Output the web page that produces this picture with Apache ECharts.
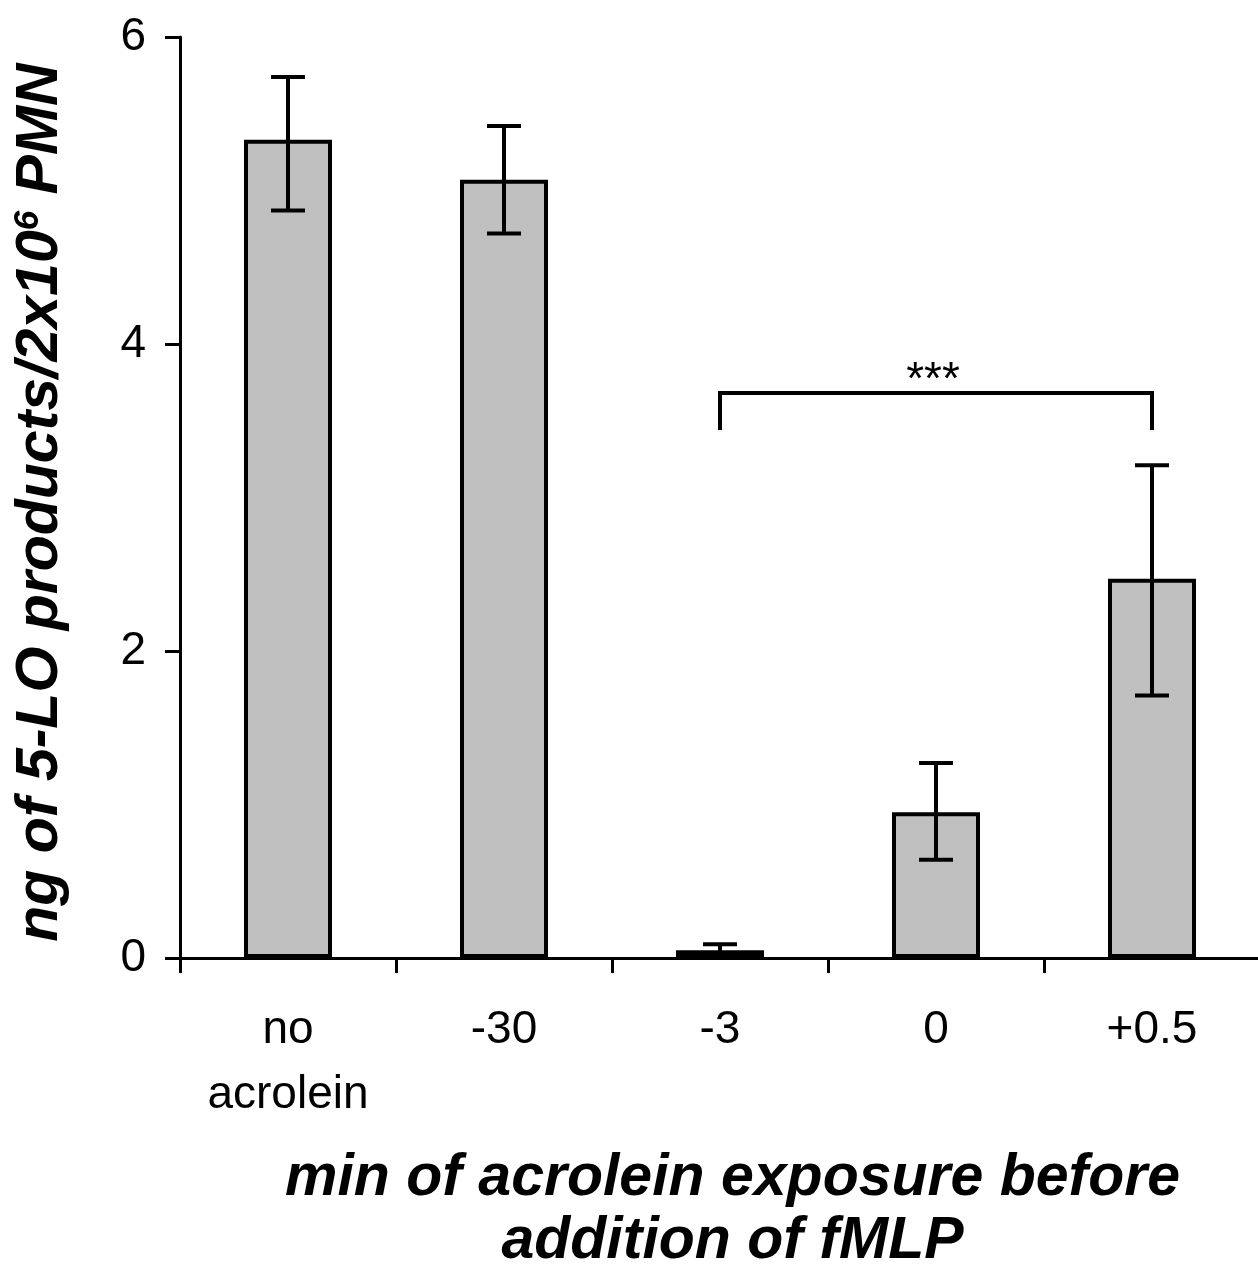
<!DOCTYPE html>
<html>
<head>
<meta charset="utf-8">
<script src="https://cdn.jsdelivr.net/npm/echarts@6/dist/echarts.min.js"></script>
<style>
html, body { margin: 0; padding: 0; background: #fff; }
#chart { width: 1258px; height: 1269px; }
</style>
</head>
<body>
<div id="chart"></div>
<script>
// data
var categories = ["no\nacrolein", "-30", "-3", "0", "+0.5"];
var means = [5.33, 5.07, 0.05, 0.95, 2.47];
var errLow = [4.87, 4.72, 0.01, 0.64, 1.71];
var errHigh = [5.74, 5.42, 0.09, 1.27, 3.21];
var yTicks = [0, 2, 4, 6];
// significance bracket: from category, to category, top, leg bottom
var bracket = [[2, 4, 3.68, 3.44]];
var bracketLabel = "***";

var errData = [];
for (var i = 0; i < categories.length; i++) {
    errData.push([i, errLow[i], errHigh[i]]);
}

var chart = echarts.init(document.getElementById("chart"));

var option = {
    backgroundColor: "#fff",
    animation: false,
    grid: { left: 180, top: 37, width: 1080, height: 921, containLabel: false, outerBoundsMode: "none" },
    xAxis: {
        type: "category",
        data: categories,
        boundaryGap: true,
        axisLine: { lineStyle: { color: "#000", width: 3 } },
        axisTick: { show: true, length: 15, inside: false, lineStyle: { color: "#000", width: 3 } },
        axisLabel: {
            color: "#000", fontFamily: "Liberation Sans, Arial", fontSize: 46,
            margin: 40, lineHeight: 65
        },
        name: "min of acrolein exposure before\naddition of fMLP",
        nameLocation: "middle",
        nameGap: 189,
        nameTextStyle: {
            color: "#000", fontFamily: "Liberation Sans, Arial", fontSize: 59,
            fontWeight: "bold", fontStyle: "italic", lineHeight: 63, padding: [0, 0, 0, 25]
        }
    },
    yAxis: {
        type: "value",
        min: 0, max: 6, interval: 2,
        axisLine: { show: true, lineStyle: { color: "#000", width: 3 } },
        axisTick: { show: true, length: 15, lineStyle: { color: "#000", width: 3 } },
        splitLine: { show: false },
        axisLabel: {
            color: "#000", fontFamily: "Liberation Sans, Arial", fontSize: 46, margin: 34,
            formatter: function (v) { return yTicks.indexOf(v) >= 0 ? String(v) : ""; }
        },
        name: "ng of 5-LO products/2x10{sup|6} PMN",
        nameLocation: "middle",
        nameGap: 110,
        nameTextStyle: {
            color: "#000", fontFamily: "Liberation Sans, Arial", fontSize: 59,
            fontWeight: "bold", fontStyle: "italic", padding: [0, 10, 0, 0],
            rich: {
                sup: {
                    color: "#000", fontFamily: "Liberation Sans, Arial", fontSize: 35,
                    fontWeight: "bold", fontStyle: "italic", verticalAlign: "top", padding: [0, 0, 22, 0]
                }
            }
        }
    },
    series: [
        {
            type: "bar",
            data: means,
            barWidth: 88,
            itemStyle: { color: "#c0c0c0", borderColor: "#000", borderWidth: 4 },
            z: 2
        },
        {
            type: "custom",
            data: errData,
            z: 3,
            renderItem: function (params, api) {
                var x = api.value(0);
                var lo = api.coord([x, api.value(1)]);
                var hi = api.coord([x, api.value(2)]);
                var half = 17;
                var st = { stroke: "#000", lineWidth: 4 };
                return {
                    type: "group",
                    children: [
                        { type: "line", shape: { x1: lo[0], y1: lo[1], x2: hi[0], y2: hi[1] }, style: st },
                        { type: "line", shape: { x1: hi[0] - half, y1: hi[1], x2: hi[0] + half, y2: hi[1] }, style: st },
                        { type: "line", shape: { x1: lo[0] - half, y1: lo[1], x2: lo[0] + half, y2: lo[1] }, style: st }
                    ]
                };
            }
        },
        {
            type: "custom",
            data: bracket,
            z: 3,
            renderItem: function (params, api) {
                var a = api.coord([api.value(0), api.value(2)]);
                var b = api.coord([api.value(1), api.value(2)]);
                var a2 = api.coord([api.value(0), api.value(3)]);
                var b2 = api.coord([api.value(1), api.value(3)]);
                return {
                    type: "group",
                    children: [
                        {
                            type: "polyline",
                            shape: { points: [[a2[0], a2[1]], [a[0], a[1]], [b[0], b[1]], [b2[0], b2[1]]] },
                            style: { stroke: "#000", lineWidth: 4, fill: null, lineJoin: "miter" }
                        },
                        {
                            type: "text",
                            style: {
                                x: (a[0] + b[0]) / 2 - 3, y: a[1] - 12,
                                text: bracketLabel, align: "center", verticalAlign: "middle",
                                font: "46px 'Liberation Sans', Arial", fill: "#000"
                            }
                        }
                    ]
                };
            }
        }
    ]
};

chart.setOption(option);
</script>
</body>
</html>
